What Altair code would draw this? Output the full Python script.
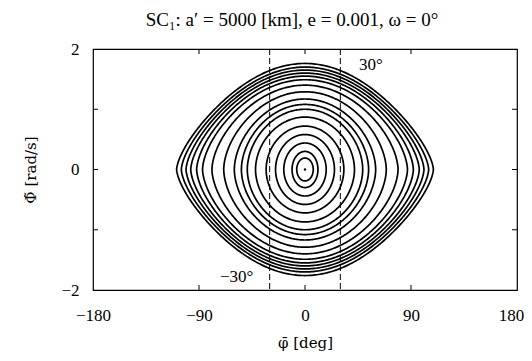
import altair as alt
import numpy as np
import pandas as pd

# Orbit extents (half-width in deg, half-height in rad/s)
phi_max = [7, 11, 18, 25, 33, 42, 49, 54, 60, 69, 79, 87, 92, 97, 101, 105, 109]
dphi_max = [0.19, 0.30, 0.44, 0.58, 0.72, 0.87, 1.00, 1.08, 1.17, 1.29, 1.40,
            1.49, 1.55, 1.60, 1.65, 1.70, 1.76]

x_ticks = [-180, -90, 0, 90, 180]
y_ticks = [-2, 0, 2]
x_inner_ticks = [-90, 0, 90]
y_inner_ticks = [-1, 0, 1]
guide_x = [-30, 30]
guide_text = ["−30°", "30°"]
guide_text_x = [-58, 56]
guide_text_y = [-1.78, 1.74]

W, H = 424, 241
FONT = "Liberation Serif"
TFONT = "DejaVu Serif"

# Closed orbits: pendulum-like shape passing through the read extents
rows = []
theta = np.linspace(0, 2 * np.pi, 481)
for i, (a, b) in enumerate(zip(phi_max, dphi_max)):
    ar = np.radians(a)
    p = 0.5 + 0.15 * (a / 109.0) ** 2
    ph = ar * np.cos(theta)
    val = np.clip((np.cos(ph) - np.cos(ar)) / (1 - np.cos(ar)), 0, None)
    dp = b * np.sign(np.sin(theta)) * val ** p
    for k in range(len(theta)):
        rows.append({"orbit": i, "k": k, "phi": float(np.degrees(ph[k])), "dphi": float(dp[k])})
orbit_df = pd.DataFrame(rows)

xs = alt.Scale(domain=[-180, 180], nice=False, zero=False)
ys = alt.Scale(domain=[-2, 2], nice=False, zero=False)

x_axis = alt.Axis(values=x_ticks, format="d", labelPadding=17, title="φ̄ [deg]",
                  titlePadding=12, labelFlush=False, labelOverlap=False,
                  labelOffset={"condition": {"test": "datum.value == 180", "value": -6}, "value": 0})
y_axis = alt.Axis(values=y_ticks, format="d", labelPadding=14, title="Φ̃ [rad/s]",
                  titlePadding=22, labelFlush=False, labelOverlap=False)

orbits = alt.Chart(orbit_df).mark_line(color="black", strokeWidth=1.7).encode(
    x=alt.X("phi:Q", scale=xs, axis=x_axis),
    y=alt.Y("dphi:Q", scale=ys, axis=y_axis),
    detail="orbit:N",
    order="k:Q",
)

center = alt.Chart(pd.DataFrame({"phi": [0.0], "dphi": [0.0]})).mark_point(
    filled=True, color="black", size=6, opacity=1
).encode(x=alt.X("phi:Q", scale=xs), y=alt.Y("dphi:Q", scale=ys))

guides = alt.Chart(pd.DataFrame({"gx": guide_x})).mark_rule(
    color="black", strokeWidth=1, strokeDash=[6, 3]
).encode(x=alt.X("gx:Q", scale=xs))

labels = alt.Chart(pd.DataFrame({"tx": guide_text_x, "ty": guide_text_y, "t": guide_text})).mark_text(
    font=FONT, fontSize=17, color="black"
).encode(x=alt.X("tx:Q", scale=xs), y=alt.Y("ty:Q", scale=ys), text="t:N")

xt = pd.DataFrame({"v": x_inner_ticks})
yt = pd.DataFrame({"v": y_inner_ticks})
tick_top = alt.Chart(xt).mark_rule(color="black").encode(
    x=alt.X("v:Q", scale=xs), y=alt.value(0), y2=alt.value(5))
tick_bot = alt.Chart(xt).mark_rule(color="black").encode(
    x=alt.X("v:Q", scale=xs), y=alt.value(H), y2=alt.value(H - 5))
tick_left = alt.Chart(yt).mark_rule(color="black").encode(
    y=alt.Y("v:Q", scale=ys), x=alt.value(0), x2=alt.value(5))
tick_right = alt.Chart(yt).mark_rule(color="black").encode(
    y=alt.Y("v:Q", scale=ys), x=alt.value(W), x2=alt.value(W - 5))

chart = alt.layer(
    guides, orbits, center, labels, tick_top, tick_bot, tick_left, tick_right
).properties(
    width=W,
    height=H,
    title=alt.TitleParams("SC₁:  a′ = 5000 [km],  e = 0.001,  ω = 0°", font=FONT,
                          fontSize=19, fontWeight="normal", offset=10, dx=-13),
    autosize=alt.AutoSizeParams(type="none"),
    padding={"left": 85, "top": 41, "right": 7, "bottom": 63},
).configure_view(
    stroke="black", strokeWidth=1.2
).configure_axis(
    domain=False, ticks=False, grid=False,
    labelFont=FONT, labelFontSize=17, labelColor="black",
    titleFont=TFONT, titleFontSize=15, titleColor="black", titleFontWeight="normal",
)

chart.save("out.html", embed_options={"renderer": "svg", "actions": False})
